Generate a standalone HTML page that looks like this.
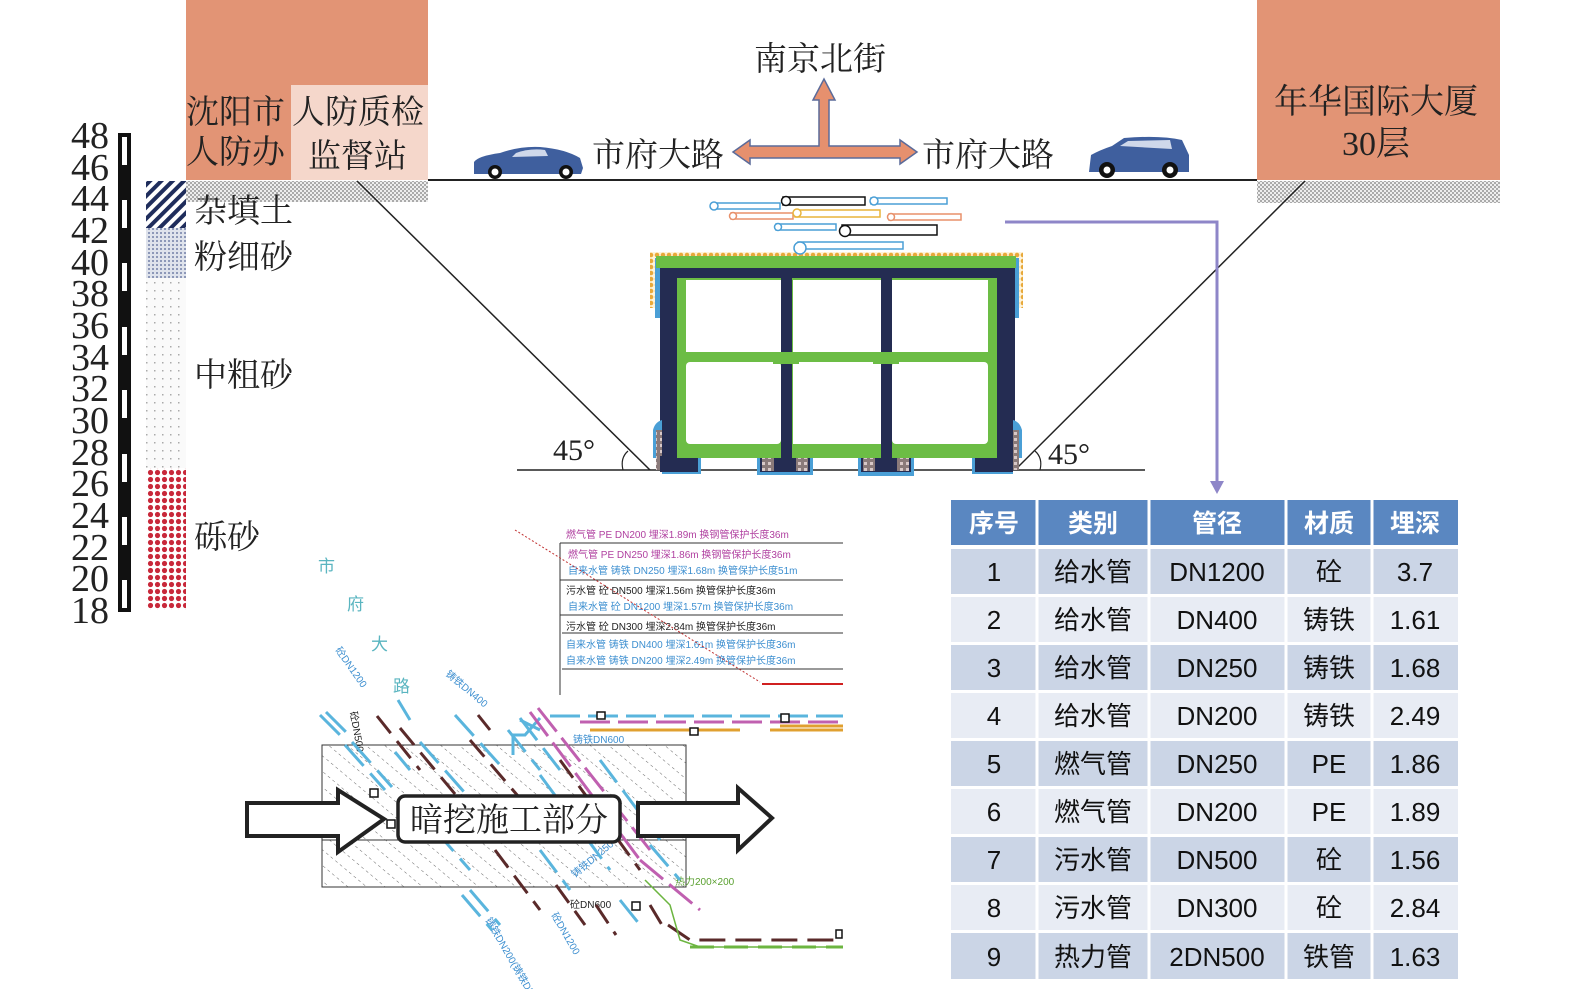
<!DOCTYPE html>
<html><head><meta charset="utf-8"><style>
html,body{margin:0;padding:0;background:#fff;}
svg{display:block;}
text{font-family:"Liberation Serif","Noto Serif CJK SC","Noto Sans CJK SC",serif;}
.s text, text.s, .s{font-family:"Liberation Sans","Noto Sans CJK SC",sans-serif;}
</style></head><body>
<svg width="1575" height="989" viewBox="0 0 1575 989" xmlns="http://www.w3.org/2000/svg">
<defs>
<pattern id="hatch" width="8" height="8" patternUnits="userSpaceOnUse" patternTransform="rotate(45)"><rect width="8" height="8" fill="#fff"/><rect width="4" height="8" fill="#1f2d5c"/></pattern>
<pattern id="fine" width="4" height="4" patternUnits="userSpaceOnUse"><rect width="4" height="4" fill="#dfe3ec"/><rect width="2" height="2" fill="#8d98b8"/></pattern>
<pattern id="dots" width="8" height="8" patternUnits="userSpaceOnUse"><rect width="8" height="8" fill="#fafafa"/><rect x="2" y="2" width="1.5" height="1.5" fill="#aaa"/></pattern>
<pattern id="red" width="7" height="7" patternUnits="userSpaceOnUse"><rect width="7" height="7" fill="#fff"/><circle cx="3.5" cy="3.5" r="2.6" fill="#c8283a"/></pattern>
<pattern id="grav" width="4" height="4" patternUnits="userSpaceOnUse"><rect width="4" height="4" fill="#eeeeee"/><rect width="2" height="2" fill="#aaaaaa"/><rect x="2" y="2" width="2" height="2" fill="#aaaaaa"/></pattern>
<pattern id="orng" width="6" height="6" patternUnits="userSpaceOnUse"><rect width="6" height="6" fill="#fff3d8"/><circle cx="3" cy="3" r="2.3" fill="#e8a93a"/></pattern>
<pattern id="dh" width="12" height="12" patternUnits="userSpaceOnUse" patternTransform="rotate(-50)"><line x1="0" y1="0" x2="0" y2="12" stroke="#444" stroke-width="0.8" stroke-dasharray="3 3"/></pattern>
<pattern id="rock" width="6" height="6" patternUnits="userSpaceOnUse"><rect width="6" height="6" fill="#8a7a7a"/><rect width="3" height="3" fill="#d8c8c8"/></pattern>
</defs>

<rect x="186" y="0" width="242" height="180" fill="#e29475"/>
<rect x="291" y="85" width="137" height="95" fill="#f5d7cb"/>
<text x="186" y="123" font-size="33" fill="#222">沈阳市</text>
<text x="186" y="163" font-size="33" fill="#222">人防办</text>
<text x="292" y="123" font-size="33" fill="#222">人防质检</text>
<text x="308" y="167" font-size="33" fill="#222">监督站</text>
<rect x="1257" y="0" width="243" height="180" fill="#e29475"/>
<text x="1376" y="113" font-size="34" fill="#222" text-anchor="middle">年华国际大厦</text>
<text x="1376" y="155" font-size="34" fill="#222" text-anchor="middle">30层</text>
<rect x="186" y="181" width="242" height="21" fill="url(#grav)"/>
<rect x="1257" y="181" width="243" height="22" fill="url(#grav)"/>
<line x1="428" y1="180" x2="1257" y2="180" stroke="#222" stroke-width="2"/>

<text x="820" y="70" font-size="33" fill="#222" text-anchor="middle">南京北街</text>
<text x="592" y="166" font-size="33" fill="#222">市府大路</text>
<text x="922" y="166" font-size="33" fill="#222">市府大路</text>
<path d="M733,152 L750,140 L750,146 L819,146 L819,100 L813,100 L824,79 L835,100 L829,100 L829,146 L900,146 L900,140 L917,152 L900,164 L900,158 L750,158 L750,164 Z" fill="#e6906e" stroke="#5b6b9a" stroke-width="1.5"/>
<path d="M474,174 L474,162 Q478,156 500,153 Q520,146 540,147 Q565,149 580,158 L583,168 L581,174 Z" fill="#3f5f9e"/>
<path d="M516,153 Q530,148 545,150 L548,156 L512,157 Z" fill="#cfd8ea"/>
<circle cx="495" cy="172" r="7" fill="#111"/><circle cx="495" cy="172" r="3.5" fill="#fff"/>
<circle cx="566" cy="172" r="7" fill="#111"/><circle cx="566" cy="172" r="3.5" fill="#fff"/>
<path d="M1089,172 L1091,155 Q1100,150 1112,146 L1124,138 Q1160,135 1182,140 L1189,155 L1189,172 Z" fill="#3f5f9e"/>
<path d="M1120,146 L1128,141 L1170,140 L1172,149 Z" fill="#cfd8ea"/>
<circle cx="1107" cy="170" r="8" fill="#111"/><circle cx="1107" cy="170" r="3.5" fill="#fff"/>
<circle cx="1170" cy="170" r="8" fill="#111"/><circle cx="1170" cy="170" r="3.5" fill="#fff"/>

<g font-size="38" fill="#222" text-anchor="end">
<text x="109" y="148">48</text><text x="109" y="180">46</text><text x="109" y="211">44</text><text x="109" y="243">42</text>
<text x="109" y="275">40</text><text x="109" y="306">38</text><text x="109" y="338">36</text><text x="109" y="370">34</text>
<text x="109" y="401">32</text><text x="109" y="433">30</text><text x="109" y="465">28</text><text x="109" y="496">26</text>
<text x="109" y="528">24</text><text x="109" y="560">22</text><text x="109" y="591">20</text><text x="109" y="623">18</text>
</g>
<rect x="118" y="133" width="13" height="479" fill="#111"/>
<g fill="#fff">
<rect x="122" y="137" width="5" height="28"/><rect x="122" y="200" width="5" height="28"/><rect x="122" y="263" width="5" height="28"/>
<rect x="122" y="327" width="5" height="28"/><rect x="122" y="390" width="5" height="28"/><rect x="122" y="454" width="5" height="28"/>
<rect x="122" y="517" width="5" height="28"/><rect x="122" y="580" width="5" height="28"/>
</g>
<rect x="146" y="181" width="40" height="47" fill="url(#hatch)"/>
<rect x="146" y="228" width="40" height="50" fill="url(#fine)"/>
<rect x="146" y="278" width="40" height="190" fill="url(#dots)"/>
<rect x="146" y="468" width="40" height="142" fill="url(#red)"/>
<text x="194" y="222" font-size="33" fill="#222">杂填土</text>
<text x="194" y="268" font-size="33" fill="#222">粉细砂</text>
<text x="194" y="386" font-size="33" fill="#222">中粗砂</text>
<text x="194" y="548" font-size="33" fill="#222">砾砂</text>

<line x1="357" y1="181" x2="650" y2="470" stroke="#222" stroke-width="1.5"/>
<line x1="1305" y1="181" x2="1015" y2="470" stroke="#222" stroke-width="1.5"/>
<line x1="517" y1="470" x2="1145" y2="470" stroke="#222" stroke-width="1.5"/>
<path d="M623,470 Q620,458 628,451" fill="none" stroke="#222" stroke-width="1.2"/>
<path d="M1040,470 Q1043,458 1035,451" fill="none" stroke="#222" stroke-width="1.2"/>
<text x="553" y="460" font-size="30" fill="#222">45°</text>
<text x="1048" y="464" font-size="30" fill="#222">45°</text>

<rect x="650" y="252" width="373" height="56" fill="url(#orng)"/>
<rect x="655" y="258" width="6" height="60" fill="#4a9fd6"/><rect x="1013" y="258" width="6" height="60" fill="#4a9fd6"/>
<rect x="656" y="256" width="360" height="12" fill="#6cbd45"/>
<rect x="660" y="268" width="355" height="190" fill="#242c52"/>
<path d="M653,430 Q655,422 662,420 L662,474 L701,474 L701,458 L653,458 Z" fill="#4a9fd6"/>
<rect x="656" y="430" width="6" height="40" fill="url(#rock)"/>
<path d="M1022,430 Q1020,422 1013,420 L1013,474 L972,474 L972,458 L1022,458 Z" fill="#4a9fd6"/>
<rect x="1013" y="430" width="6" height="40" fill="url(#rock)"/>
<rect x="660" y="456" width="38" height="16" fill="#242c52"/>
<rect x="975" y="456" width="38" height="16" fill="#242c52"/>
<rect x="757" y="456" width="56" height="19" fill="#4a9fd6"/><rect x="760" y="456" width="50" height="16" fill="#242c52"/>
<rect x="858" y="456" width="56" height="20" fill="#4a9fd6"/><rect x="861" y="456" width="50" height="16" fill="#242c52"/>
<rect x="762" y="458" width="12" height="13" fill="url(#rock)"/><rect x="796" y="458" width="12" height="13" fill="url(#rock)"/>
<rect x="863" y="458" width="12" height="13" fill="url(#rock)"/><rect x="897" y="458" width="12" height="13" fill="url(#rock)"/>
<rect x="677" y="278" width="320" height="180" fill="#6cbd45"/>
<rect x="686" y="280" width="95" height="72" fill="#fff"/><rect x="793" y="280" width="88" height="72" fill="#fff"/><rect x="892" y="280" width="96" height="72" fill="#fff"/>
<rect x="686" y="362" width="95" height="82" fill="#fff" rx="4"/><rect x="793" y="362" width="88" height="82" fill="#fff"/><rect x="892" y="362" width="96" height="82" fill="#fff" rx="4"/>
<rect x="781" y="278" width="11" height="74" fill="#242c52"/><rect x="881" y="278" width="11" height="74" fill="#242c52"/>
<rect x="781" y="364" width="11" height="94" fill="#242c52"/><rect x="881" y="364" width="11" height="94" fill="#242c52"/>
<rect x="773" y="352" width="26" height="12" fill="#6cbd45"/><rect x="873" y="352" width="26" height="12" fill="#6cbd45"/>

<g fill="#fff" stroke-width="1.5">
<rect x="712" y="203" width="68" height="6" stroke="#4a9fd6"/><circle cx="714" cy="206" r="4" stroke="#4a9fd6"/>
<rect x="783" y="197" width="82" height="8" stroke="#111"/><circle cx="786" cy="201" r="4.5" stroke="#111"/>
<rect x="871" y="198" width="76" height="6" stroke="#4a9fd6"/><circle cx="874" cy="201" r="4" stroke="#4a9fd6"/>
<rect x="731" y="213" width="62" height="6" stroke="#e8906a"/><circle cx="733" cy="216" r="3.5" stroke="#e8906a"/>
<rect x="795" y="210" width="85" height="7" stroke="#e8b43a"/><circle cx="797" cy="213" r="4" stroke="#e8b43a"/>
<rect x="889" y="214" width="72" height="6" stroke="#e8906a"/><circle cx="891" cy="217" r="3.5" stroke="#e8906a"/>
<rect x="776" y="224" width="60" height="6" stroke="#4a9fd6"/><circle cx="778" cy="227" r="3.5" stroke="#4a9fd6"/>
<rect x="842" y="225" width="95" height="10" stroke="#111"/><circle cx="845" cy="231" r="5.5" stroke="#111"/>
<rect x="798" y="242" width="105" height="7" stroke="#4a9fd6"/><circle cx="800" cy="248" r="6" stroke="#4a9fd6"/>
</g>

<polyline points="1005,222 1217,222 1217,485" fill="none" stroke="#8e86c8" stroke-width="3"/>
<path d="M1210,481 L1217,494 L1224,481 Z" fill="#8e86c8"/>

<g class="s">
<rect x="951" y="500" width="507" height="45" fill="#5a87c1"/>
<g fill="#cbd5e6"><rect x="951" y="549" width="507" height="45"/><rect x="951" y="645" width="507" height="45"/><rect x="951" y="741" width="507" height="45"/><rect x="951" y="837" width="507" height="45"/><rect x="951" y="933" width="507" height="46"/></g>
<g fill="#e8ecf4"><rect x="951" y="597" width="507" height="45"/><rect x="951" y="693" width="507" height="45"/><rect x="951" y="789" width="507" height="45"/><rect x="951" y="885" width="507" height="45"/></g>
<g stroke="#fff" stroke-width="3"><line x1="1037" y1="500" x2="1037" y2="979"/><line x1="1149" y1="500" x2="1149" y2="979"/><line x1="1286" y1="500" x2="1286" y2="979"/><line x1="1372" y1="500" x2="1372" y2="979"/>
<line x1="951" y1="547" x2="1458" y2="547" stroke-width="4"/></g>
<g font-size="25" font-weight="bold" fill="#fff" text-anchor="middle">
<text x="994" y="532">序号</text><text x="1093" y="532">类别</text><text x="1217" y="532">管径</text><text x="1329" y="532">材质</text><text x="1415" y="532">埋深</text></g>
<g font-size="26" fill="#111" text-anchor="middle">
<text x="994" y="581">1</text><text x="1093" y="581">给水管</text><text x="1217" y="581">DN1200</text><text x="1329" y="581">砼</text><text x="1415" y="581">3.7</text>
<text x="994" y="629">2</text><text x="1093" y="629">给水管</text><text x="1217" y="629">DN400</text><text x="1329" y="629">铸铁</text><text x="1415" y="629">1.61</text>
<text x="994" y="677">3</text><text x="1093" y="677">给水管</text><text x="1217" y="677">DN250</text><text x="1329" y="677">铸铁</text><text x="1415" y="677">1.68</text>
<text x="994" y="725">4</text><text x="1093" y="725">给水管</text><text x="1217" y="725">DN200</text><text x="1329" y="725">铸铁</text><text x="1415" y="725">2.49</text>
<text x="994" y="773">5</text><text x="1093" y="773">燃气管</text><text x="1217" y="773">DN250</text><text x="1329" y="773">PE</text><text x="1415" y="773">1.86</text>
<text x="994" y="821">6</text><text x="1093" y="821">燃气管</text><text x="1217" y="821">DN200</text><text x="1329" y="821">PE</text><text x="1415" y="821">1.89</text>
<text x="994" y="869">7</text><text x="1093" y="869">污水管</text><text x="1217" y="869">DN500</text><text x="1329" y="869">砼</text><text x="1415" y="869">1.56</text>
<text x="994" y="917">8</text><text x="1093" y="917">污水管</text><text x="1217" y="917">DN300</text><text x="1329" y="917">砼</text><text x="1415" y="917">2.84</text>
<text x="994" y="966">9</text><text x="1093" y="966">热力管</text><text x="1217" y="966">2DN500</text><text x="1329" y="966">铁管</text><text x="1415" y="966">1.63</text>
</g></g>

<rect x="322" y="745" width="364" height="142" fill="url(#dh)" stroke="#333" stroke-width="1"/>
<line x1="322" y1="840" x2="686" y2="840" stroke="#333" stroke-width="1"/>
<g font-size="10" class="s">
<text x="566" y="538" fill="#b040a0">燃气管 PE DN200 埋深1.89m 换钢管保护长度36m</text>
<line x1="560" y1="543" x2="843" y2="543" stroke="#333"/>
<text x="568" y="558" fill="#b040a0">燃气管 PE DN250 埋深1.86m 换钢管保护长度36m</text>
<text x="568" y="574" fill="#3d8fd0">自来水管 铸铁 DN250 埋深1.68m 换管保护长度51m</text>
<line x1="560" y1="580" x2="843" y2="580" stroke="#333"/>
<text x="566" y="594" fill="#222">污水管  砼 DN500 埋深1.56m 换管保护长度36m</text>
<text x="568" y="610" fill="#3d8fd0">自来水管 砼 DN1200 埋深1.57m 换管保护长度36m</text>
<line x1="560" y1="615" x2="843" y2="615" stroke="#333"/>
<text x="566" y="630" fill="#222">污水管  砼 DN300 埋深2.84m 换管保护长度36m</text>
<line x1="562" y1="633" x2="843" y2="633" stroke="#333"/>
<text x="566" y="648" fill="#3d8fd0">自来水管 铸铁 DN400 埋深1.61m 换管保护长度36m</text>
<text x="566" y="664" fill="#3d8fd0">自来水管 铸铁 DN200 埋深2.49m 换管保护长度36m</text>
<line x1="562" y1="669" x2="843" y2="669" stroke="#333"/>
</g>
<line x1="560" y1="543" x2="560" y2="695" stroke="#333"/>
<line x1="515" y1="530" x2="760" y2="682" stroke="#c03030" stroke-dasharray="2 2"/>
<line x1="762" y1="684" x2="843" y2="684" stroke="#d02020" stroke-width="2"/>
<g font-size="17" fill="#5ab5c0" class="s"><text x="318" y="572">市</text><text x="347" y="610">府</text><text x="371" y="650">大</text><text x="393" y="692">路</text></g>
<g font-size="10" fill="#3d8fd0" class="s">
<text x="335" y="650" transform="rotate(55 335 650)">砼DN1200</text>
<text x="445" y="675" transform="rotate(40 445 675)">铸铁DN400</text>
<text x="573" y="743" fill="#3d8fd0">铸铁DN600</text>
<text x="575" y="878" transform="rotate(-40 575 878)">铸铁DN250</text>
<text x="485" y="920" transform="rotate(60 485 920)">铸铁DN200(铸铁DN400)</text>
<text x="551" y="915" transform="rotate(60 551 915)">砼DN1200</text>
<text x="675" y="885" fill="#5aa030">热力200×200</text>
<text x="570" y="908" fill="#222">砼DN600</text>
<text x="350" y="712" fill="#222" transform="rotate(80 350 712)">砼DN500</text>
</g>
<g stroke-width="3" fill="none">
<g stroke="#5ab5dd" stroke-dasharray="28 10">
<line x1="320" y1="715" x2="345" y2="740"/><line x1="326" y1="712" x2="351" y2="737"/>
<line x1="345" y1="745" x2="385" y2="790"/><line x1="352" y1="742" x2="392" y2="787"/>
<line x1="395" y1="752" x2="410" y2="770"/><line x1="398" y1="700" x2="410" y2="720"/>
<line x1="420" y1="742" x2="480" y2="810"/><line x1="435" y1="830" x2="470" y2="870"/>
<line x1="455" y1="715" x2="500" y2="765"/><line x1="520" y1="718" x2="560" y2="770"/>
<line x1="508" y1="730" x2="540" y2="770"/><line x1="540" y1="775" x2="610" y2="870"/>
<line x1="470" y1="890" x2="500" y2="925"/><line x1="462" y1="895" x2="492" y2="930"/>
<line x1="600" y1="760" x2="660" y2="840"/><line x1="650" y1="845" x2="680" y2="880"/>
<line x1="540" y1="850" x2="570" y2="890"/><line x1="620" y1="900" x2="640" y2="925"/>
<line x1="520" y1="720" x2="540" y2="730"/>
</g>
<polyline points="513,755 513,735 525,735 540,718" stroke="#5ab5dd"/>
<g stroke="#5a2a2a" stroke-dasharray="22 10">
<line x1="377" y1="716" x2="420" y2="770"/><line x1="400" y1="728" x2="460" y2="800"/>
<line x1="470" y1="740" x2="530" y2="810"/><line x1="478" y1="715" x2="490" y2="730"/>
<line x1="560" y1="760" x2="640" y2="870"/><line x1="495" y1="850" x2="540" y2="910"/>
<line x1="556" y1="885" x2="585" y2="925"/><line x1="596" y1="905" x2="616" y2="935"/>
<line x1="650" y1="905" x2="665" y2="930"/>
</g>
<polyline points="668,925 690,940 843,940" stroke="#5a2a2a" stroke-dasharray="26 10"/>
<polyline points="645,880 670,905 680,940 700,947 843,947" stroke="#6cb540" stroke-width="1.5"/>
<line x1="690" y1="947" x2="843" y2="947" stroke="#6cb540" stroke-dasharray="24 10"/>
<g stroke="#c060b0" stroke-dasharray="30 8">
<line x1="530" y1="712" x2="640" y2="860"/><line x1="538" y1="708" x2="650" y2="850"/>
<line x1="640" y1="860" x2="700" y2="910"/>
</g>
<g stroke="#5ab5dd" stroke-dasharray="30 8"><line x1="550" y1="716" x2="843" y2="716"/></g>
<g stroke="#c060b0" stroke-dasharray="30 8"><line x1="580" y1="722" x2="843" y2="722"/></g>
<g stroke="#e0a030"><line x1="590" y1="730" x2="740" y2="730"/><line x1="770" y1="730" x2="843" y2="730"/><line x1="780" y1="726" x2="843" y2="726"/></g>
</g>
<g fill="#fff" stroke="#111" stroke-width="1.5">
<rect x="597" y="712" width="8" height="7"/><rect x="690" y="728" width="8" height="7"/><rect x="781" y="714" width="8" height="8"/>
<rect x="370" y="789" width="8" height="8"/><rect x="387" y="820" width="8" height="8"/><rect x="632" y="902" width="8" height="8"/>
<rect x="836" y="930" width="6" height="8"/>
</g>

<path d="M247,803 L338,803 L338,790 L384,819 L338,852 L338,836 L247,836 Z" fill="#fff" stroke="#222" stroke-width="4" stroke-linejoin="miter"/>
<path d="M638,803 L738,803 L738,788 L772,818 L738,850 L738,836 L638,836 Z" fill="#fff" stroke="#222" stroke-width="4"/>
<rect x="398" y="796" width="222" height="46" rx="7" fill="#fff" stroke="#222" stroke-width="3.5"/>
<text x="509" y="831" font-size="33" fill="#222" text-anchor="middle">暗挖施工部分</text>
</svg>
</body></html>
